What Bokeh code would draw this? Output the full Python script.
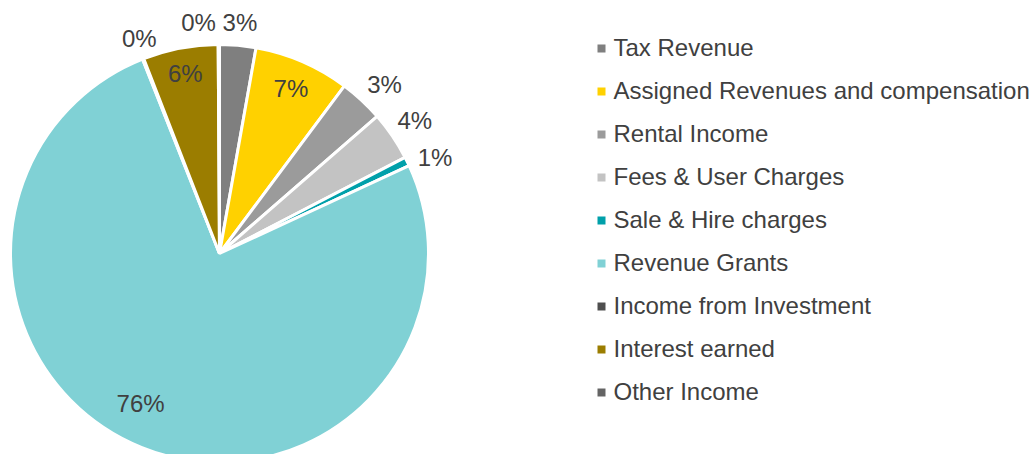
import math
from bokeh.plotting import figure
from bokeh.models import Range1d, ColumnDataSource
from bokeh.core.properties import value
from bokeh.embed import file_html
from bokeh.resources import INLINE

categories = ["Tax Revenue", "Assigned Revenues and compensation", "Rental Income",
              "Fees & User Charges", "Sale & Hire charges", "Revenue Grants",
              "Income from Investment", "Interest earned", "Other Income"]
shares = [2.8, 7.4, 3.4, 3.8, 0.7, 75.9, 0.1, 5.8, 0.1]
colors = ["#7F7F7F", "#FFD100", "#9B9B9B", "#C3C3C3", "#00A0AA",
          "#80D1D5", "#4F4F4F", "#9B7D00", "#646464"]

# style: label placement tweaks (degrees, radius factor)
angle_nudge = {"Sale & Hire charges": 2.0, "Revenue Grants": 6.0,
               "Other Income": -5.0, "Rental Income": 1.5, "Income from Investment": 1.0}
radius_override = {"Revenue Grants": 0.81, "Interest earned": 0.875,
                   "Tax Revenue": 1.11, "Other Income": 1.11,
                   "Income from Investment": 1.10}

W, H = 1035, 454
cx, cy, R = 219, 201, 209
FONT = value("Liberation Sans")
TXT = "#404040"

p = figure(width=W, height=H, x_range=Range1d(0, W), y_range=Range1d(0, H),
           output_backend="svg", toolbar_location=None, min_border=0,
           x_axis_location=None, y_axis_location=None)
p.grid.visible = False
p.outline_line_color = None
p.background_fill_color = "white"
p.border_fill_color = "white"

total = sum(shares)
starts, ends, lx, ly, labels = [], [], [], [], []
cum = 0.0
for cat, s in zip(categories, shares):
    f0 = cum / total
    f1 = (cum + s) / total
    cum += s
    starts.append(math.pi / 2 - f0 * 2 * math.pi)
    ends.append(math.pi / 2 - f1 * 2 * math.pi)
    mid = (f0 + f1) / 2 * 360 + angle_nudge.get(cat, 0.0)
    default_r = 0.86 if s >= 5 else 1.13
    r = radius_override.get(cat, default_r) * R
    th = math.radians(mid)
    lx.append(cx + r * math.sin(th))
    ly.append(cy + r * math.cos(th))
    labels.append(f"{round(s / total * 100):.0f}%")

src = ColumnDataSource(dict(start=starts, end=ends, color=colors))
p.wedge(x=cx, y=cy, radius=R, start_angle="start", end_angle="end",
        direction="clock", fill_color="color", line_color="white",
        line_width=3, source=src)

p.text(x=lx, y=ly, text=labels, text_font=FONT, text_font_size="24px",
       text_color=TXT, text_align="center", text_baseline="middle")

# legend
ley = [406 - 43 * i for i in range(len(categories))]
p.scatter(x=[601] * len(categories), y=ley, marker="square", size=8,
          fill_color=colors, line_color=None)
p.text(x=[613] * len(categories), y=[v + 1 for v in ley], text=categories,
       text_font=FONT, text_font_size="24px", text_color=TXT,
       text_align="left", text_baseline="middle")

open("out.html", "w").write(file_html(p, INLINE))
